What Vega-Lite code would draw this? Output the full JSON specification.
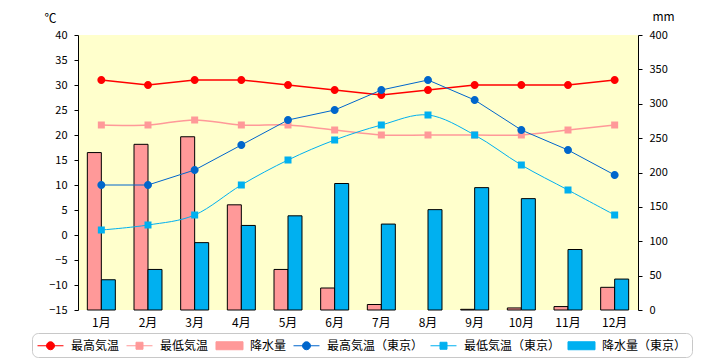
{
  "$schema": "https://vega.github.io/schema/vega-lite/v6.json",
  "width": 560,
  "height": 275,
  "autosize": {"type": "none"},
  "padding": {"left": 78, "top": 35, "right": 82, "bottom": 50},
  "background": "white",
  "config": {
    "view": {"fill": "#FFFFCC", "stroke": null},
    "font": "Noto Sans CJK JP",
    "axis": {
      "labelFont": "Noto Sans CJK JP",
      "labelColor": "black",
      "labelFontSize": 11,
      "domainColor": "black",
      "tickColor": "black",
      "grid": false,
      "titleFont": "Noto Sans CJK JP",
      "titleFontWeight": "normal",
      "titleColor": "black",
      "titleFontSize": 12
    },
    "legend": {
      "orient": "none", "legendX": -46, "legendY": 298,
      "direction": "horizontal", "columns": 6,
      "labelFont": "Noto Sans CJK JP", "labelFontSize": 12, "labelColor": "black", "labelOffset": 13, "labelLimit": 300,
      "symbolSize": 196, "symbolStrokeWidth": 1, "symbolOffset": 6, "columnPadding": 4, "padding": 5,
      "strokeColor": "#C8C8C8", "cornerRadius": 6, "fillColor": "white",
      "symbolType": "M-1.857,0H1.857M-0.571,0A0.571,0.571 0 1,0 0.571,0A0.571,0.571 0 1,0 -0.571,0Z"
    }
  },
  "datasets": {
    "rain": [
      {"m": "1月", "s": "降水量", "v": 229},
      {"m": "2月", "s": "降水量", "v": 241},
      {"m": "3月", "s": "降水量", "v": 252},
      {"m": "4月", "s": "降水量", "v": 153},
      {"m": "5月", "s": "降水量", "v": 59},
      {"m": "6月", "s": "降水量", "v": 32},
      {"m": "7月", "s": "降水量", "v": 8},
      {"m": "9月", "s": "降水量", "v": 1},
      {"m": "10月", "s": "降水量", "v": 3},
      {"m": "11月", "s": "降水量", "v": 5},
      {"m": "12月", "s": "降水量", "v": 33},
      {"m": "1月", "s": "降水量（東京）", "v": 44},
      {"m": "2月", "s": "降水量（東京）", "v": 59},
      {"m": "3月", "s": "降水量（東京）", "v": 98},
      {"m": "4月", "s": "降水量（東京）", "v": 123},
      {"m": "5月", "s": "降水量（東京）", "v": 137},
      {"m": "6月", "s": "降水量（東京）", "v": 184},
      {"m": "7月", "s": "降水量（東京）", "v": 125},
      {"m": "8月", "s": "降水量（東京）", "v": 146},
      {"m": "9月", "s": "降水量（東京）", "v": 178},
      {"m": "10月", "s": "降水量（東京）", "v": 162},
      {"m": "11月", "s": "降水量（東京）", "v": 88},
      {"m": "12月", "s": "降水量（東京）", "v": 45}
    ],
    "temp": [
      {"m": "1月", "s": "最高気温", "v": 31},
      {"m": "2月", "s": "最高気温", "v": 30},
      {"m": "3月", "s": "最高気温", "v": 31},
      {"m": "4月", "s": "最高気温", "v": 31},
      {"m": "5月", "s": "最高気温", "v": 30},
      {"m": "6月", "s": "最高気温", "v": 29},
      {"m": "7月", "s": "最高気温", "v": 28},
      {"m": "8月", "s": "最高気温", "v": 29},
      {"m": "9月", "s": "最高気温", "v": 30},
      {"m": "10月", "s": "最高気温", "v": 30},
      {"m": "11月", "s": "最高気温", "v": 30},
      {"m": "12月", "s": "最高気温", "v": 31},
      {"m": "1月", "s": "最低気温", "v": 22},
      {"m": "2月", "s": "最低気温", "v": 22},
      {"m": "3月", "s": "最低気温", "v": 23},
      {"m": "4月", "s": "最低気温", "v": 22},
      {"m": "5月", "s": "最低気温", "v": 22},
      {"m": "6月", "s": "最低気温", "v": 21},
      {"m": "7月", "s": "最低気温", "v": 20},
      {"m": "8月", "s": "最低気温", "v": 20},
      {"m": "9月", "s": "最低気温", "v": 20},
      {"m": "10月", "s": "最低気温", "v": 20},
      {"m": "11月", "s": "最低気温", "v": 21},
      {"m": "12月", "s": "最低気温", "v": 22},
      {"m": "1月", "s": "最高気温（東京）", "v": 10},
      {"m": "2月", "s": "最高気温（東京）", "v": 10},
      {"m": "3月", "s": "最高気温（東京）", "v": 13},
      {"m": "4月", "s": "最高気温（東京）", "v": 18},
      {"m": "5月", "s": "最高気温（東京）", "v": 23},
      {"m": "6月", "s": "最高気温（東京）", "v": 25},
      {"m": "7月", "s": "最高気温（東京）", "v": 29},
      {"m": "8月", "s": "最高気温（東京）", "v": 31},
      {"m": "9月", "s": "最高気温（東京）", "v": 27},
      {"m": "10月", "s": "最高気温（東京）", "v": 21},
      {"m": "11月", "s": "最高気温（東京）", "v": 17},
      {"m": "12月", "s": "最高気温（東京）", "v": 12},
      {"m": "1月", "s": "最低気温（東京）", "v": 1},
      {"m": "2月", "s": "最低気温（東京）", "v": 2},
      {"m": "3月", "s": "最低気温（東京）", "v": 4},
      {"m": "4月", "s": "最低気温（東京）", "v": 10},
      {"m": "5月", "s": "最低気温（東京）", "v": 15},
      {"m": "6月", "s": "最低気温（東京）", "v": 19},
      {"m": "7月", "s": "最低気温（東京）", "v": 22},
      {"m": "8月", "s": "最低気温（東京）", "v": 24},
      {"m": "9月", "s": "最低気温（東京）", "v": 20},
      {"m": "10月", "s": "最低気温（東京）", "v": 14},
      {"m": "11月", "s": "最低気温（東京）", "v": 9},
      {"m": "12月", "s": "最低気温（東京）", "v": 4}
    ]
  },
  "layer": [
    {
      "data": {"name": "rain"},
      "mark": {"type": "bar", "stroke": "black", "strokeWidth": 1},
      "encoding": {
        "x": {
          "field": "m", "type": "nominal",
          "scale": {"domain": ["1月","2月","3月","4月","5月","6月","7月","8月","9月","10月","11月","12月"], "paddingInner": 0, "paddingOuter": 0},
          "axis": {"title": null, "labelAngle": 0, "ticks": false, "domain": false, "labelPadding": 7, "labelFontSize": 12}
        },
        "xOffset": {
          "field": "s", "type": "nominal",
          "scale": {"domain": ["降水量", "降水量（東京）"], "paddingInner": 0, "paddingOuter": 0.667}
        },
        "y": {
          "field": "v", "type": "quantitative", "stack": null,
          "scale": {"domain": [0, 400], "nice": false},
          "axis": {"orient": "right", "values": [0,50,100,150,200,250,300,350,400], "title": "mm", "titleAngle": 0, "titleX": 25, "titleY": -19, "titleAlign": "center", "titleBaseline": "middle", "tickSize": 4, "labelPadding": 7}
        },
        "color": {
          "field": "s", "type": "nominal",
          "scale": {"domain": ["最高気温","最低気温","降水量","最高気温（東京）","最低気温（東京）","降水量（東京）"], "range": ["#FF0000","#FF9999","#FF9999","#0066CC","#00B0F0","#00B0F0"]},
          "legend": {"title": null}
        }
      }
    },
    {
      "data": {"name": "temp"},
      "encoding": {
        "y": {
          "field": "v", "type": "quantitative",
          "scale": {"domain": [-15, 40], "nice": false},
          "axis": {"orient": "left", "values": [-15,-10,-5,0,5,10,15,20,25,30,35,40], "title": "℃", "titleAngle": 0, "titleX": -28, "titleY": -17, "titleAlign": "center", "titleBaseline": "middle", "tickSize": 4, "labelPadding": 7}
        }
      },
      "layer": [
        {
          "data": {"values": [{}]},
          "mark": {"type": "rule", "color": "black", "strokeWidth": 1},
          "encoding": {"y": {"datum": 0, "type": "quantitative"}}
        },
        {
          "transform": [{"filter": "datum.s === '最低気温'"}],
          "mark": {"type": "line", "strokeWidth": 1.5, "interpolate": "cardinal"},
          "encoding": {
            "x": {"field": "m", "type": "nominal"},
            "color": {"field": "s", "type": "nominal", "scale": {"domain": ["最高気温","最低気温","降水量","最高気温（東京）","最低気温（東京）","降水量（東京）"], "range": ["#FF0000","#FF9999","#FF9999","#0066CC","#00B0F0","#00B0F0"]}, "legend": {"title": null}}
          }
        },
        {
          "transform": [{"filter": "datum.s === '最低気温（東京）'"}],
          "mark": {"type": "line", "strokeWidth": 1, "interpolate": "cardinal"},
          "encoding": {
            "x": {"field": "m", "type": "nominal"},
            "color": {"field": "s", "type": "nominal", "scale": {"domain": ["最高気温","最低気温","降水量","最高気温（東京）","最低気温（東京）","降水量（東京）"], "range": ["#FF0000","#FF9999","#FF9999","#0066CC","#00B0F0","#00B0F0"]}, "legend": {"title": null}}
          }
        },
        {
          "transform": [{"filter": "datum.s === '最高気温'"}],
          "mark": {"type": "line", "strokeWidth": 1.5},
          "encoding": {
            "x": {"field": "m", "type": "nominal"},
            "color": {"field": "s", "type": "nominal", "scale": {"domain": ["最高気温","最低気温","降水量","最高気温（東京）","最低気温（東京）","降水量（東京）"], "range": ["#FF0000","#FF9999","#FF9999","#0066CC","#00B0F0","#00B0F0"]}, "legend": {"title": null}}
          }
        },
        {
          "transform": [{"filter": "datum.s === '最高気温（東京）'"}],
          "mark": {"type": "line", "strokeWidth": 1},
          "encoding": {
            "x": {"field": "m", "type": "nominal"},
            "color": {"field": "s", "type": "nominal", "scale": {"domain": ["最高気温","最低気温","降水量","最高気温（東京）","最低気温（東京）","降水量（東京）"], "range": ["#FF0000","#FF9999","#FF9999","#0066CC","#00B0F0","#00B0F0"]}, "legend": {"title": null}}
          }
        },
        {
          "mark": {"type": "point", "filled": true, "size": 196, "opacity": 1},
          "encoding": {
            "x": {"field": "m", "type": "nominal"},
            "color": {"field": "s", "type": "nominal", "scale": {"domain": ["最高気温","最低気温","降水量","最高気温（東京）","最低気温（東京）","降水量（東京）"], "range": ["#FF0000","#FF9999","#FF9999","#0066CC","#00B0F0","#00B0F0"]}, "legend": {"title": null}},
            "shape": {
              "field": "s", "type": "nominal",
              "scale": {
                "domain": ["最高気温","最低気温","降水量","最高気温（東京）","最低気温（東京）","降水量（東京）"],
                "range": [
                  "M-1.857,0H1.857M-0.571,0A0.571,0.571 0 1,0 0.571,0A0.571,0.571 0 1,0 -0.571,0Z",
                  "M-1.857,0H1.857M-0.5,-0.5H0.5V0.5H-0.5Z",
                  "M-1.93,-0.57H1.93V0.57H-1.93Z",
                  "M-1.857,0H1.857M-0.571,0A0.571,0.571 0 1,0 0.571,0A0.571,0.571 0 1,0 -0.571,0Z",
                  "M-1.857,0H1.857M-0.5,-0.5H0.5V0.5H-0.5Z",
                  "M-1.93,-0.57H1.93V0.57H-1.93Z"
                ]
              },
              "legend": {"title": null}
            }
          }
        }
      ]
    }
  ],
  "resolve": {"scale": {"y": "independent"}}
}
